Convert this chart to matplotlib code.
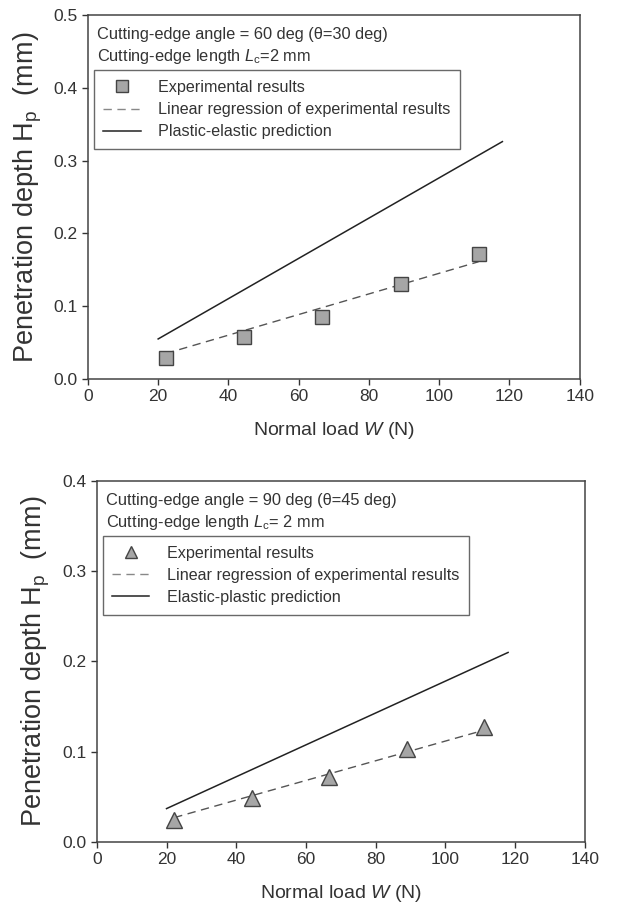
import matplotlib
matplotlib.use("Agg")
import matplotlib.pyplot as plt
from matplotlib.lines import Line2D

plt.rcParams['font.family'] = ['Liberation Sans', 'DejaVu Sans']
plt.rcParams['mathtext.fontset'] = 'custom'
plt.rcParams['mathtext.rm'] = 'Liberation Sans'
plt.rcParams['mathtext.it'] = 'Liberation Sans:italic'

# Normal load W (N), shared by both panels
load = [22.2, 44.5, 66.7, 89.0, 111.2]

# Top panel: 60 deg cutting edge
depth_60 = [0.029, 0.057, 0.085, 0.131, 0.171]
reg_60_x = [22.2, 111.2]
reg_60_y = [0.035, 0.161]
pred_60_x = [20, 118]
pred_60_y = [0.055, 0.326]

# Bottom panel: 90 deg cutting edge
depth_90 = [0.024, 0.049, 0.072, 0.103, 0.127]
reg_90_x = [22.2, 111.2]
reg_90_y = [0.027, 0.124]
pred_90_x = [20, 118]
pred_90_y = [0.037, 0.210]

xticks = [0, 20, 40, 60, 80, 100, 120, 140]

ink = '#333333'
fig = plt.figure(figsize=(6.37, 9.08), dpi=100)
ax1 = fig.add_axes([0.138, 0.5826, 0.772, 0.401])
ax2 = fig.add_axes([0.152, 0.0727, 0.766, 0.3976])


def draw_panel(ax, depth, reg_x, reg_y, pred_x, pred_y, marker, ymax, yticks,
               line1, line2, pred_label):
    ax.plot(pred_x, pred_y, color='#222222', lw=1.1)
    ax.plot(reg_x, reg_y, color='#555555', lw=1.0, dashes=(6, 4))
    ax.plot(load, depth, linestyle='none', marker=marker, ms=10 if marker == 's' else 12,
            mfc='#a6a6a6', mec='#444444', mew=1.0)
    ax.set_xlim(0, 140)
    ax.set_ylim(0, ymax)
    ax.set_xticks(xticks)
    ax.set_yticks(yticks)
    ax.set_yticklabels([f"{v:.1f}" for v in yticks])
    ax.tick_params(direction='out', length=4, width=1, colors=ink, labelsize=12.5,
                   labelcolor=ink)
    for s in ax.spines.values():
        s.set_color('#444444')
        s.set_linewidth(1.1)
    ax.set_xlabel(r"Normal load $\mathit{W}$ (N)", fontsize=14, color=ink, labelpad=11)
    ax.set_ylabel(r"Penetration depth H$_\mathrm{p}$  (mm)", fontsize=19.5, color=ink,
                  labelpad=7)
    ax.text(0.018, 0.968, line1, transform=ax.transAxes, fontsize=11.8, color=ink,
            va='top', ha='left')
    ax.text(0.018, 0.912, line2, transform=ax.transAxes, fontsize=11.8, color=ink,
            va='top', ha='left')
    handles = [
        Line2D([], [], linestyle='none', marker=marker, ms=9, mfc='#a6a6a6',
               mec='#444444', mew=1.0),
        Line2D([], [], color='#888888', lw=1.0, dashes=(6, 4)),
        Line2D([], [], color='#222222', lw=1.1),
    ]
    labels = ["Experimental results", "Linear regression of experimental results",
              pred_label]
    leg = ax.legend(handles, labels, loc='upper left', bbox_to_anchor=(0.012, 0.848),
                    fontsize=11.6, frameon=True, fancybox=False, handlelength=2.3,
                    handletextpad=1.1, borderpad=0.6, labelspacing=0.45,
                    borderaxespad=0)
    leg.get_frame().set_edgecolor('#444444')
    leg.get_frame().set_linewidth(1.0)
    for t in leg.get_texts():
        t.set_color(ink)


draw_panel(ax1, depth_60, reg_60_x, reg_60_y, pred_60_x, pred_60_y, 's', 0.5,
           [0.0, 0.1, 0.2, 0.3, 0.4, 0.5],
           "Cutting-edge angle = 60 deg (θ=30 deg)",
           r"Cutting-edge length $\mathit{L}_\mathrm{c}$=2 mm",
           "Plastic-elastic prediction")
draw_panel(ax2, depth_90, reg_90_x, reg_90_y, pred_90_x, pred_90_y, '^', 0.4,
           [0.0, 0.1, 0.2, 0.3, 0.4],
           "Cutting-edge angle = 90 deg (θ=45 deg)",
           r"Cutting-edge length $\mathit{L}_\mathrm{c}$= 2 mm",
           "Elastic-plastic prediction")

fig.savefig("out.png", dpi=100)
